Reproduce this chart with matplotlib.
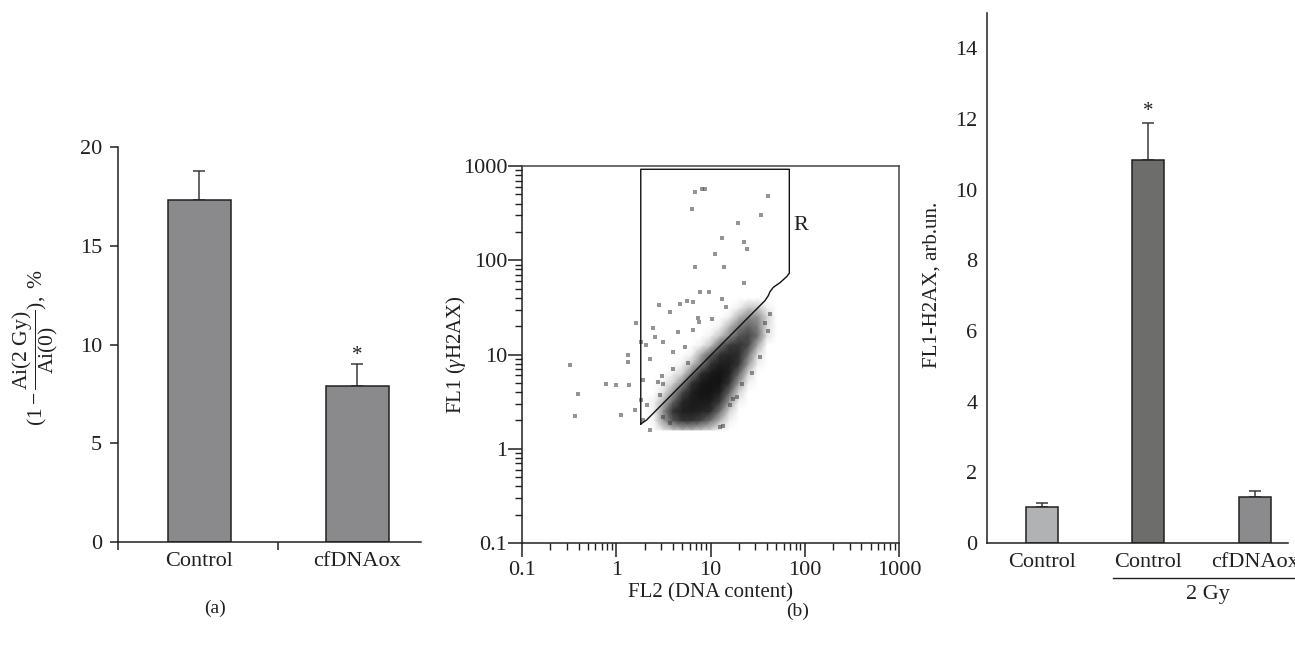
import numpy as np
import matplotlib
matplotlib.use('Agg')
import matplotlib.pyplot as plt
from matplotlib.colors import LinearSegmentedColormap

plt.rcParams['font.family'] = 'serif'
plt.rcParams['font.serif'] = ['Liberation Serif', 'DejaVu Serif']
plt.rcParams['mathtext.fontset'] = 'custom'
plt.rcParams['mathtext.rm'] = 'Liberation Serif'
plt.rcParams['mathtext.it'] = 'Liberation Serif:italic'

INK = '#231f20'

# panel (a): apoptotic index drop
a_labels = ['Control', 'cfDNAox']
a_values = [17.3, 7.9]
a_err = [1.5, 1.1]

# panel (b): flow cytometry, outlying events (FL2, FL1)
b_pts_x = [0.32, 0.395, 0.365, 0.77, 0.99, 1.36, 1.12, 1.6, 1.32, 1.33, 1.62, 1.83, 1.94, 1.83, 1.94,
           6.85, 8.07, 8.75, 6.4, 41, 34, 19.7, 22.6, 24.2, 13.1, 11.2, 6.85, 14, 22.6, 7.7, 9.7,
           13.1, 14.6, 2.86, 3.7, 5.7, 4.75, 7.4, 10.5, 42.7, 41, 2.47, 2.58, 3.1, 4.0, 3.03, 2.8,
           2.28, 4.56, 6.56, 7.55, 5.37, 5.8, 4.0, 2.07, 6.56, 13.7, 2.28, 17.5, 21.4, 33.5, 37.8,
           3.16, 3.7, 12.6, 19, 16.1, 2.1, 2.9, 3.16, 27.4]
b_pts_y = [7.8, 3.8, 2.25, 4.9, 4.75, 4.75, 2.3, 2.6, 8.3, 9.9, 21.4, 13.7, 5.4, 3.3, 2.0,
           533, 566, 575, 350, 480, 302, 247, 157, 132, 171, 116, 85, 85, 57, 45.7, 45.7,
           38.8, 32, 33.5, 28.5, 37, 34, 24.2, 23.6, 26.7, 17.7, 19, 15.5, 13.7, 10.7, 5.9, 5.1,
           8.9, 17.5, 18.2, 22, 12.1, 8.1, 7.1, 12.6, 36, 1.74, 1.58, 3.4, 4.9, 9.5, 21.4,
           2.19, 1.86, 1.71, 3.56, 2.91, 2.9, 3.7, 4.9, 6.3]

# dense population: darkness read on a grid of log10(FL2) x log10(FL1)
b_grid_lx = [0.3, 0.4, 0.5, 0.6, 0.7, 0.8, 0.9, 1.0, 1.1, 1.2, 1.3, 1.4, 1.5, 1.6, 1.7]
b_grid_ly = [0.2, 0.3, 0.4, 0.5, 0.6, 0.7, 0.8, 0.9, 1.0, 1.1, 1.2, 1.3, 1.4, 1.5, 1.6]
b_density = [
    [0, 0, .10, .20, .25, .25, .20, .15, .05, 0, 0, 0, 0, 0, 0],
    [0, .05, .35, .60, .75, .75, .65, .50, .25, .05, 0, 0, 0, 0, 0],
    [0, .05, .40, .75, .90, .92, .88, .80, .50, .15, 0, 0, 0, 0, 0],
    [0, .05, .25, .55, .85, .95, .95, .92, .70, .35, .05, 0, 0, 0, 0],
    [0, 0, .10, .35, .65, .90, 1.0, 1.0, .90, .55, .15, 0, 0, 0, 0],
    [0, 0, .05, .15, .40, .75, .95, 1.0, 1.0, .75, .35, .05, 0, 0, 0],
    [0, 0, 0, .05, .15, .45, .80, .95, 1.0, .90, .55, .15, 0, 0, 0],
    [0, 0, 0, 0, .05, .20, .45, .75, .92, .92, .75, .35, .05, 0, 0],
    [0, 0, 0, 0, 0, .05, .30, .55, .78, .85, .80, .50, .12, 0, 0],
    [0, 0, 0, 0, 0, 0, .05, .20, .50, .70, .75, .65, .30, 0, 0],
    [0, 0, 0, 0, 0, 0, 0, .05, .20, .40, .60, .65, .50, .10, 0],
    [0, 0, 0, 0, 0, 0, 0, 0, .05, .25, .45, .55, .45, .12, 0],
    [0, 0, 0, 0, 0, 0, 0, 0, 0, .05, .25, .40, .38, .15, 0],
    [0, 0, 0, 0, 0, 0, 0, 0, 0, 0, .05, .18, .18, .05, 0],
    [0, 0, 0, 0, 0, 0, 0, 0, 0, 0, 0, 0, 0, 0, 0],
]

# gate R outline
gate_x = [1.82, 1.82, 68.6, 68.6, 64.3, 54.6, 46.4, 42.8, 41, 37.8, 34.9, 2.1, 1.82]
gate_y = [1.83, 923, 923, 73, 67, 57.8, 51.6, 46.4, 42, 37.2, 34.4, 2.02, 1.83]

# panel (b) right: FL1-H2AX
c_labels = ['Control', 'Control', 'cfDNAox']
c_values = [1.02, 10.83, 1.29]
c_err = [0.1, 1.06, 0.18]
c_colors = ['#b1b2b4', '#6d6d6b', '#8b8b8d']

W, H = 1295, 647
fig = plt.figure(figsize=(W / 100, H / 100), dpi=100)


def px_axes(l, r, b, t):
    return fig.add_axes([l / W, (H - b) / H, (r - l) / W, (b - t) / H])


# ---------------- panel (a)
ax = px_axes(118, 421, 542, 147)
xa = np.arange(len(a_values))
ax.bar(xa, a_values, 0.4, color='#8a8a8c', edgecolor=INK, linewidth=1.1, zorder=2)
ax.errorbar(xa, a_values, yerr=[np.zeros(len(a_err)), a_err], fmt='none',
            ecolor='#3a3a3a', elinewidth=1.1, capsize=4, capthick=1.1, zorder=1)
ax.text(1, 9.45, '*', ha='center', va='center', fontsize=15, color=INK)
ax.set_xlim(-0.517, 1.406)
ax.set_ylim(0, 20)
ax.set_yticks([0, 5, 10, 15, 20])
ax.set_xticks(xa)
ax.set_xticklabels(a_labels)
ax.set_xticks([-0.517, 0.5], minor=True)
ax.tick_params(axis='x', which='major', length=0, pad=7, labelsize=16, labelcolor=INK)
ax.tick_params(axis='x', which='minor', length=6, width=1.1, color=INK, direction='out')
ax.tick_params(axis='y', length=6, width=1.1, color=INK, direction='out', pad=5.5,
               labelsize=16, labelcolor=INK)
for s in ['top', 'right']:
    ax.spines[s].set_visible(False)
for s in ['left', 'bottom']:
    ax.spines[s].set_color(INK)
    ax.spines[s].set_linewidth(1.1)
fig.text(35 / W, 1 - 347 / H, r'$(1-\dfrac{\mathrm{Ai(2\ Gy)}}{\mathrm{Ai(0)}}),\ \%$',
         rotation=90, ha='center', va='center', fontsize=15.5, color=INK)

# ---------------- panel (b) scatter
bx = px_axes(522, 899, 543, 166)
bx.set_xscale('log')
bx.set_yscale('log')
gx, gy = np.meshgrid(10 ** np.array(b_grid_lx), 10 ** np.array(b_grid_ly))
dens_cmap = LinearSegmentedColormap.from_list(
    'dens', [(0.0, '#ffffff'), (0.3, '#a8a8a8'), (0.7, '#3a3a3a'), (1.0, '#141414')])
bx.pcolormesh(gx, gy, np.array(b_density), shading='gouraud', cmap=dens_cmap,
              vmin=0, vmax=1, zorder=1, antialiased=False)
bx.plot(b_pts_x, b_pts_y, 's', ms=2.6, color='#3c3c3c', alpha=0.55, mew=0, zorder=2)
bx.plot(gate_x, gate_y, color='#111111', lw=1.0, zorder=3)
bx.text(90, 231, 'R', ha='center', va='center', fontsize=16, color=INK)
bx.set_xlim(0.1, 1000)
bx.set_ylim(0.1, 1000)
dec = [0.1, 1, 10, 100, 1000]
dec_lab = ['0.1', '1', '10', '100', '1000']
bx.set_xticks(dec)
bx.set_xticklabels(dec_lab)
bx.set_yticks(dec)
bx.set_yticklabels(dec_lab)
minors = [k * d for d in [0.1, 1, 10, 100] for k in range(2, 10)]
bx.set_xticks(minors, minor=True)
bx.set_yticks(minors, minor=True)
bx.tick_params(which='major', length=10, width=1.1, color=INK, direction='out',
               labelsize=16, labelcolor=INK)
bx.tick_params(axis='x', which='major', pad=3)
bx.tick_params(axis='y', which='major', pad=0.5)
bx.tick_params(which='minor', length=5, width=1.0, color=INK, direction='out',
               labelleft=False, labelbottom=False)
for s in bx.spines.values():
    s.set_color('#444444')
    s.set_linewidth(1.1)
bx.spines['left'].set_color(INK)
bx.spines['bottom'].set_color(INK)
bx.set_xlabel('FL2 (DNA content)', fontsize=15, color=INK)
bx.xaxis.set_label_coords(0.5, -0.108)
bx.set_ylabel(r'FL1 ($\gamma$H2AX)', fontsize=15, color=INK)
bx.yaxis.set_label_coords(-0.142, 0.5)

# ---------------- panel (b) bars
cx = px_axes(987, 1288, 543, 13)
xc = np.arange(len(c_values))
cx.bar(xc, c_values, 0.3, color=c_colors, edgecolor=INK, linewidth=1.1, zorder=2)
cx.errorbar(xc, c_values, yerr=[np.zeros(len(c_err)), c_err], fmt='none',
            ecolor='#3a3a3a', elinewidth=1.1, capsize=4, capthick=1.1, zorder=1)
cx.text(1, 12.2, '*', ha='center', va='center', fontsize=15, color=INK)
cx.set_xlim(-0.516, 2.31)
cx.set_ylim(0, 15)
cx.set_yticks(range(0, 15, 2))
cx.set_xticks(xc)
cx.set_xticklabels(c_labels)
cx.tick_params(axis='x', length=0, pad=7, labelsize=16, labelcolor=INK)
cx.tick_params(axis='y', length=0, pad=7, labelsize=16, labelcolor=INK)
for s in ['top', 'right']:
    cx.spines[s].set_visible(False)
for s in ['left', 'bottom']:
    cx.spines[s].set_color(INK)
    cx.spines[s].set_linewidth(1.1)
cx.plot([0.664, 2.38], [-0.066, -0.066], transform=cx.get_xaxis_transform(),
        color=INK, lw=1.0, clip_on=False)
cx.text(1.56, -0.098, '2 Gy', transform=cx.get_xaxis_transform(), ha='center',
        va='center', fontsize=16, color=INK)
cx.set_ylabel('FL1-H2AX, arb.un.', fontsize=15, color=INK)
cx.yaxis.set_label_coords(-0.15, 0.487)

fig.text(215 / W, 1 - 608 / H, '(a)', ha='center', va='center', fontsize=14, color=INK)
fig.text(798 / W, 1 - 611 / H, '(b)', ha='center', va='center', fontsize=14, color=INK)

fig.savefig('out.png', dpi=100, facecolor='white')
